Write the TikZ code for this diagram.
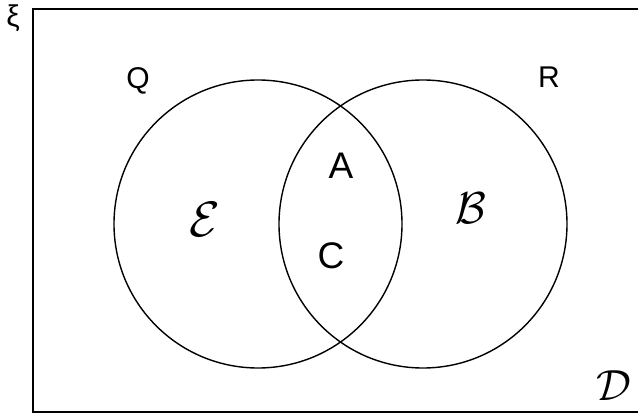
\documentclass[tikz,border=0pt]{standalone}
\usepackage{fontspec}
\setsansfont{Liberation Sans}

\tikzset{
	setlabel/.style={inner sep=0pt, font=\sffamily\fontsize{30}{32}\selectfont},
	handlabel/.style={inner sep=0pt, font=\sffamily\fontsize{37}{40}\selectfont},
	calilabel/.style={inner sep=0pt, font=\Huge},
	setcircle/.style={circle, draw, line width=1.4pt, minimum size=288pt, inner sep=0pt}
}

\begin{document}
\begin{tikzpicture}[x=1pt,y=-1pt]
		
		\useasboundingbox (0,0) rectangle (638,414);
		
		% Universal set frame (right side runs off the page)
		\coordinate (topright) at (638,9);
		\coordinate (botright) at (638,412);
		\draw[line width=1.4pt] (topright) -| (33,412) -- (botright);
		\node[inner sep=0pt, font=\sffamily\fontsize{30}{32}\selectfont] (xi) at (13,18) {ξ};
		
		% Circles
		\node[setcircle] (Q) at (258,224) {};
		\node[setcircle] (R) at (423,224) {};
		
		% Circle names
		\node[setlabel] (Qname) at (138,81) {Q};
		\node[setlabel] (Rname) at (549,77) {R};
		
		% Region labels
		\node[handlabel] (Alab) at (341,166) {A};
		\node[handlabel] (Clab) at (331,256) {C};
		\node[calilabel, scale=2.0] (Elab) at (205,219) {$\mathcal{E}$};
		\node[calilabel, scale=1.8] (Blab) at (471,208) {$\mathcal{B}$};
		\node[calilabel, scale=1.75] (Dlab) at (614,386) {$\mathcal{D}$};
		
	\end{tikzpicture}
\end{document}
